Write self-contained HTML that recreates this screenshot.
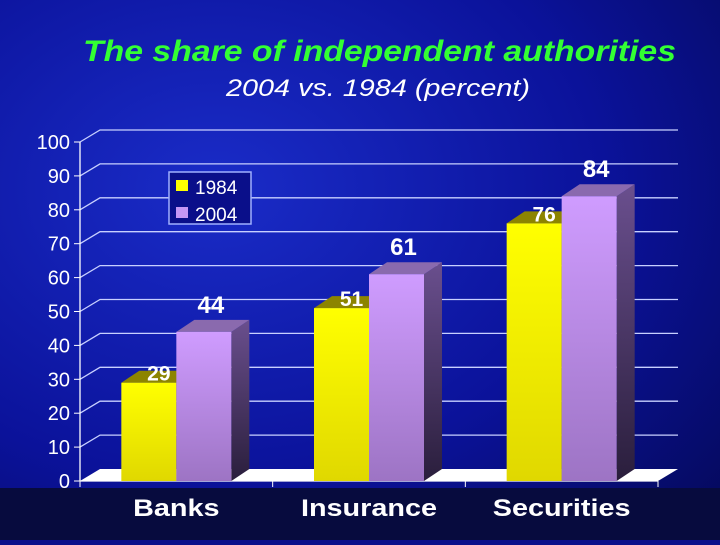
<!DOCTYPE html>
<html><head><meta charset="utf-8"><style>
body{margin:0;width:720px;height:540px;overflow:hidden;background:#0a0f8a;font-family:"Liberation Sans",sans-serif}
</style></head><body>
<svg width="720" height="540" xmlns="http://www.w3.org/2000/svg">
<defs>
<radialGradient id="bg" cx="0.3" cy="0.35" r="0.9"><stop offset="0" stop-color="#1a2cc8"/><stop offset="0.6" stop-color="#0b129a"/><stop offset="1" stop-color="#050a60"/></radialGradient>
<linearGradient id="yel" x1="0" y1="0" x2="0" y2="1"><stop offset="0" stop-color="#ffff00"/><stop offset="1" stop-color="#e0d800"/></linearGradient>
<linearGradient id="pur" x1="0" y1="0" x2="0" y2="1"><stop offset="0" stop-color="#cf9cff"/><stop offset="1" stop-color="#9d74c4"/></linearGradient>
<linearGradient id="purs" x1="0" y1="0" x2="0" y2="1"><stop offset="0" stop-color="#6a4f8e"/><stop offset="1" stop-color="#2a1e3c"/></linearGradient>
</defs>
<rect width="720" height="540" fill="url(#bg)"/>
<rect y="488" width="720" height="52" fill="#070b3e"/>
<text x="83" y="61" textLength="593" lengthAdjust="spacingAndGlyphs" font-size="30" font-style="italic" font-weight="bold" fill="#33ff33">The share of independent authorities</text>
<text x="226" y="96" textLength="304" lengthAdjust="spacingAndGlyphs" font-size="24" font-style="italic" fill="#ffffff">2004 vs. 1984 (percent)</text>
<g id="grid"></g>
<g id="bars"></g>
<g>
<rect x="169" y="172" width="82" height="52" fill="#0a0f8a" stroke="#a0b0ff" stroke-width="1.5"/>
<rect x="176" y="180" width="12" height="11" fill="#ffff00"/>
<text x="195" y="194" font-size="19" fill="#fff">1984</text>
<rect x="176" y="207" width="12" height="11" fill="#c496f5"/>
<text x="195" y="221" font-size="19" fill="#fff">2004</text>
</g>
</svg>
<script>
const categories=["Banks","Insurance","Securities"];
const series1984=[29,51,76];
const series2004=[44,61,84];
const yTicks=[0,10,20,30,40,50,60,70,80,90,100];
const NS="http://www.w3.org/2000/svg";
const x0=80,x1=658,y0=481,dx=20,dy=12,pu=3.39;
const yS=v=>y0-v*pu;
const groupW=(x1-x0)/categories.length;
function el(t,a,p){const e=document.createElementNS(NS,t);for(const k in a)e.setAttribute(k,a[k]);p.appendChild(e);return e;}
const g=document.getElementById('grid'),b=document.getElementById('bars');
let f=el('polygon',{points:`${x0},${y0} ${x0+dx},${y0-dy} ${x1+dx},${y0-dy} ${x1},${y0}`,fill:'#ffffff'},g);


yTicks.forEach(v=>{const y=yS(v);
 if(v>0){let l=el('polyline',{points:`${x0},${y} ${x0+dx},${y-dy} ${x1+dx},${y-dy}`,fill:'none',stroke:'#c8d0ff','stroke-width':1.3},g);
 
 }
 el('line',{x1:x0-6,y1:y,x2:x0,y2:y,stroke:'#fff'},g);
 let t=el('text',{x:x0-10,y:y+7,'text-anchor':'end','font-size':20,fill:'#fff'},g);t.textContent=v;
 
 
});
let ax=el('line',{x1:x0,y1:y0,x2:x0,y2:yS(100),stroke:'#fff','stroke-width':1.3},g);


let bx=el('line',{x1:x0,y1:y0,x2:x1,y2:y0,stroke:'#fff','stroke-width':1.3},g);


for(let i=0;i<=categories.length;i++){const x=x0+i*groupW;el('line',{x1:x,y1:y0,x2:x,y2:y0+6,stroke:'#fff'},g);}
const bw=55;
function bar(x,v,front,top,side,name){const y=yS(v);
 const gr=el('g',{},b);
 
 
 el('polygon',{points:`${x+bw},${y} ${x+bw+18},${y-12} ${x+bw+18},${y0-12} ${x+bw},${y0}`,fill:side},gr);
 el('polygon',{points:`${x},${y} ${x+18},${y-12} ${x+bw+18},${y-12} ${x+bw},${y}`,fill:top},gr);
 el('rect',{x:x,y:y,width:bw,height:y0-y,fill:front},gr);
}
categories.forEach((c,i)=>{const cx=x0+(i+0.5)*groupW;
 bar(cx-bw,series1984[i],'url(#yel)','#8c8400','#555000','bar-1984-'+c.toLowerCase());
 bar(cx,series2004[i],'url(#pur)','#8a6aae','url(#purs)','bar-2004-'+c.toLowerCase());
 let t1=el('text',{x:cx-bw/2+10,y:yS(series1984[i])-2,'text-anchor':'middle','font-size':21,'font-weight':'bold',fill:'#fff'},b);t1.textContent=series1984[i];
 
 
 let t2=el('text',{x:cx+bw/2+7,y:yS(series2004[i])-19,'text-anchor':'middle','font-size':24,'font-weight':'bold',fill:'#fff'},b);t2.textContent=series2004[i];
 
 
 let cl=el('text',{x:cx,y:516,'text-anchor':'middle','font-size':24,'font-weight':'bold',fill:'#fff'},b);cl.textContent=c;
 
 
 const w=cl.getComputedTextLength()*1.2;
 cl.setAttribute('textLength',w);
 cl.setAttribute('lengthAdjust','spacingAndGlyphs');
});
</script>
</body></html>
